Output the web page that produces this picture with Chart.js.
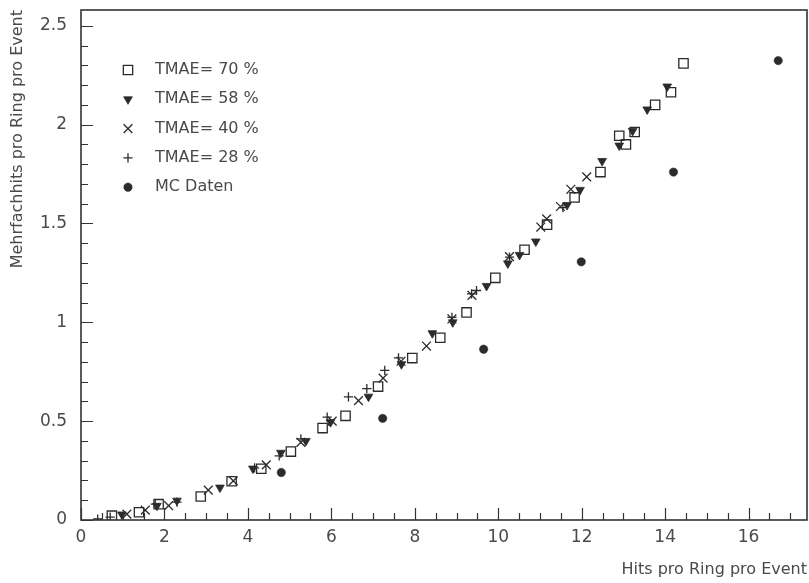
<!DOCTYPE html>
<html>
<head>
<meta charset="utf-8">
<script src="https://cdn.jsdelivr.net/npm/chart.js@4/dist/chart.umd.min.js"></script>
<style>
  html, body { margin: 0; padding: 0; background: #ffffff; overflow: hidden; }
  #wrap { width: 809px; height: 583px; }
  canvas { display: block; }
</style>
</head>
<body>
<div id="wrap"><canvas id="c" width="809" height="583"></canvas></div>
<script>
// Multiple hits per ring per event versus hits per ring per event
const tmae70X = [0.74, 1.39, 1.86, 2.87, 3.61, 4.32, 5.03, 5.79, 6.34, 7.12, 7.94, 8.61, 9.24, 9.93, 10.63, 11.17, 11.83, 12.45, 12.9, 13.06, 13.27, 13.76, 14.14, 14.44];
const tmae70Y = [0.022, 0.039, 0.08, 0.119, 0.196, 0.259, 0.346, 0.465, 0.527, 0.675, 0.819, 0.922, 1.05, 1.225, 1.367, 1.494, 1.632, 1.76, 1.944, 1.9, 1.963, 2.1, 2.164, 2.31];

const tmae58X = [0.98, 1.82, 2.3, 3.33, 4.12, 4.79, 5.39, 5.98, 6.89, 7.68, 8.42, 8.91, 9.72, 10.23, 10.51, 10.9, 11.65, 11.96, 12.49, 12.9, 13.22, 13.57, 14.05];
const tmae58Y = [0.028, 0.072, 0.098, 0.164, 0.26, 0.34, 0.40, 0.495, 0.624, 0.788, 0.945, 1.0, 1.184, 1.298, 1.341, 1.409, 1.593, 1.67, 1.816, 1.894, 1.968, 2.077, 2.193];

const tmae40X = [1.1, 1.54, 2.1, 3.05, 3.65, 4.44, 5.27, 6.02, 6.65, 7.24, 7.67, 8.28, 8.89, 9.37, 10.27, 11.02, 11.16, 11.49, 11.74, 12.12];
const tmae40Y = [0.03, 0.05, 0.073, 0.151, 0.198, 0.279, 0.393, 0.5, 0.604, 0.718, 0.803, 0.88, 1.017, 1.136, 1.332, 1.482, 1.523, 1.586, 1.673, 1.736];

const tmae28X = [0.4, 0.7, 1.78, 2.3, 4.16, 4.75, 5.27, 5.9, 6.41, 6.85, 7.28, 7.61, 8.89, 9.36, 9.48, 10.27, 11.55];
const tmae28Y = [0.005, 0.015, 0.08, 0.09, 0.264, 0.324, 0.41, 0.52, 0.623, 0.665, 0.757, 0.82, 1.025, 1.144, 1.161, 1.33, 1.58];

const mcX = [4.8, 7.23, 9.65, 11.99, 14.2, 16.71];
const mcY = [0.24, 0.514, 0.864, 1.306, 1.76, 2.324];

const seriesNames = ['TMAE= 70 %', 'TMAE= 58 %', 'TMAE= 40 %', 'TMAE= 28 %', 'MC Daten'];

const xTickValues = [0, 2, 4, 6, 8, 10, 12, 14, 16];
const yTickValues = [0, 0.5, 1, 1.5, 2, 2.5];
const xTitle = 'Hits pro Ring pro Event';
const yTitle = 'Mehrfachhits pro Ring pro Event';

const INK = '#2b2b2b';
const TEXT = '#4a4a4a';
const FONT = 'DejaVu Sans';

function pairs(xs, ys) { return xs.map((x, i) => ({ x: x, y: ys[i] })); }

const datasets = [
  { label: seriesNames[0], data: pairs(tmae70X, tmae70Y), pointStyle: 'rect', pointRadius: 6.6, pointRotation: 0,
    pointBackgroundColor: 'rgba(0,0,0,0)', pointBorderColor: INK, pointBorderWidth: 1.3 },
  { label: seriesNames[1], data: pairs(tmae58X, tmae58Y), pointStyle: 'triangle', pointRadius: 5, pointRotation: 180,
    pointBackgroundColor: INK, pointBorderColor: INK, pointBorderWidth: 0.8 },
  { label: seriesNames[2], data: pairs(tmae40X, tmae40Y), pointStyle: 'crossRot', pointRadius: 6.2, pointRotation: 0,
    pointBackgroundColor: INK, pointBorderColor: INK, pointBorderWidth: 1.3 },
  { label: seriesNames[3], data: pairs(tmae28X, tmae28Y), pointStyle: 'cross', pointRadius: 4.6, pointRotation: 0,
    pointBackgroundColor: INK, pointBorderColor: INK, pointBorderWidth: 1.3 },
  { label: seriesNames[4], data: pairs(mcX, mcY), pointStyle: 'circle', pointRadius: 4.2, pointRotation: 0,
    pointBackgroundColor: INK, pointBorderColor: INK, pointBorderWidth: 0.5 }
];
datasets.forEach(d => { d.showLine = false; d.pointHoverRadius = d.pointRadius; });

// Frame and inward-pointing major/minor tick marks
const framePlugin = {
  id: 'frameTicks',
  afterDatasetsDraw(chart) {
    const { ctx, chartArea: a, scales } = chart;
    const xs = scales.x, ys = scales.y;
    ctx.save();
    ctx.strokeStyle = '#333';
    ctx.lineWidth = 1.6;
    ctx.strokeRect(a.left, a.top, a.right - a.left, a.bottom - a.top);
    ctx.lineWidth = 1.2;
    ctx.beginPath();
    for (let k = 0; k * 0.5 <= xs.max + 1e-9; k++) {
      const v = k * 0.5;
      const px = Math.round(xs.getPixelForValue(v)) + 0.5;
      const len = (k % 4 === 0) ? 12 : 7;
      ctx.moveTo(px, a.bottom);
      ctx.lineTo(px, a.bottom - len);
    }
    for (let k = 0; k * 0.1 <= ys.max + 1e-9; k++) {
      const v = k * 0.1;
      const py = Math.round(ys.getPixelForValue(v)) + 0.5;
      const len = (k % 5 === 0) ? 12 : 7;
      ctx.moveTo(a.left, py);
      ctx.lineTo(a.left + len, py);
    }
    ctx.stroke();
    ctx.restore();
  }
};

// Legend drawn inside the plot area, top-left
const legendPlugin = {
  id: 'innerLegend',
  afterDatasetsDraw(chart) {
    const { ctx } = chart;
    const markerX = 128, textX = 155, firstY = 70, step = 29.3;
    ctx.save();
    chart.data.datasets.forEach((d, i) => {
      const y = firstY + i * step;
      ctx.fillStyle = d.pointBackgroundColor;
      ctx.strokeStyle = d.pointBorderColor;
      ctx.lineWidth = d.pointBorderWidth;
      Chart.helpers.drawPoint(ctx, {
        pointStyle: d.pointStyle, rotation: d.pointRotation,
        radius: d.pointRadius, borderWidth: d.pointBorderWidth
      }, markerX, y);
      ctx.fillStyle = TEXT;
      ctx.font = '16px "' + FONT + '"';
      ctx.textBaseline = 'middle';
      ctx.textAlign = 'left';
      ctx.fillText(d.label, textX, y);
    });
    ctx.restore();
  }
};

const chart = new Chart(document.getElementById('c'), {
  type: 'scatter',
  data: { datasets: datasets },
  options: {
    responsive: false,
    devicePixelRatio: 1,
    animation: false,
    events: [],
    layout: { autoPadding: false, padding: { top: 10, right: 2, left: 0, bottom: 0 } },
    plugins: { legend: { display: false }, tooltip: { enabled: false } },
    scales: {
      x: {
        type: 'linear', min: 0, max: 17.4,
        grid: { display: false, drawTicks: false },
        border: { display: false },
        afterBuildTicks: s => { s.ticks = xTickValues.map(v => ({ value: v })); },
        afterFit: s => { s.height = 63; s.paddingLeft = 0; s.paddingRight = 0; },
        ticks: { padding: 7, color: TEXT, font: { family: FONT, size: 17 },
                 callback: v => String(v) },
        title: { display: true, text: xTitle, align: 'end', color: TEXT,
                 font: { family: FONT, size: 16 }, padding: { top: 0, bottom: 4 } }
      },
      y: {
        type: 'linear', min: 0, max: 2.58,
        grid: { display: false, drawTicks: false },
        border: { display: false },
        afterBuildTicks: s => { s.ticks = yTickValues.map(v => ({ value: v })); },
        afterFit: s => { s.width = 81; s.paddingTop = 0; s.paddingBottom = 0; },
        ticks: { padding: 14, color: TEXT, font: { family: FONT, size: 17 },
                 callback: v => String(+v.toFixed(1)) },
        title: { display: true, text: yTitle, align: 'end', color: TEXT,
                 font: { family: FONT, size: 16 }, padding: { top: 8, bottom: 0 } }
      }
    }
  },
  plugins: [framePlugin, legendPlugin]
});
</script>
</body>
</html>
